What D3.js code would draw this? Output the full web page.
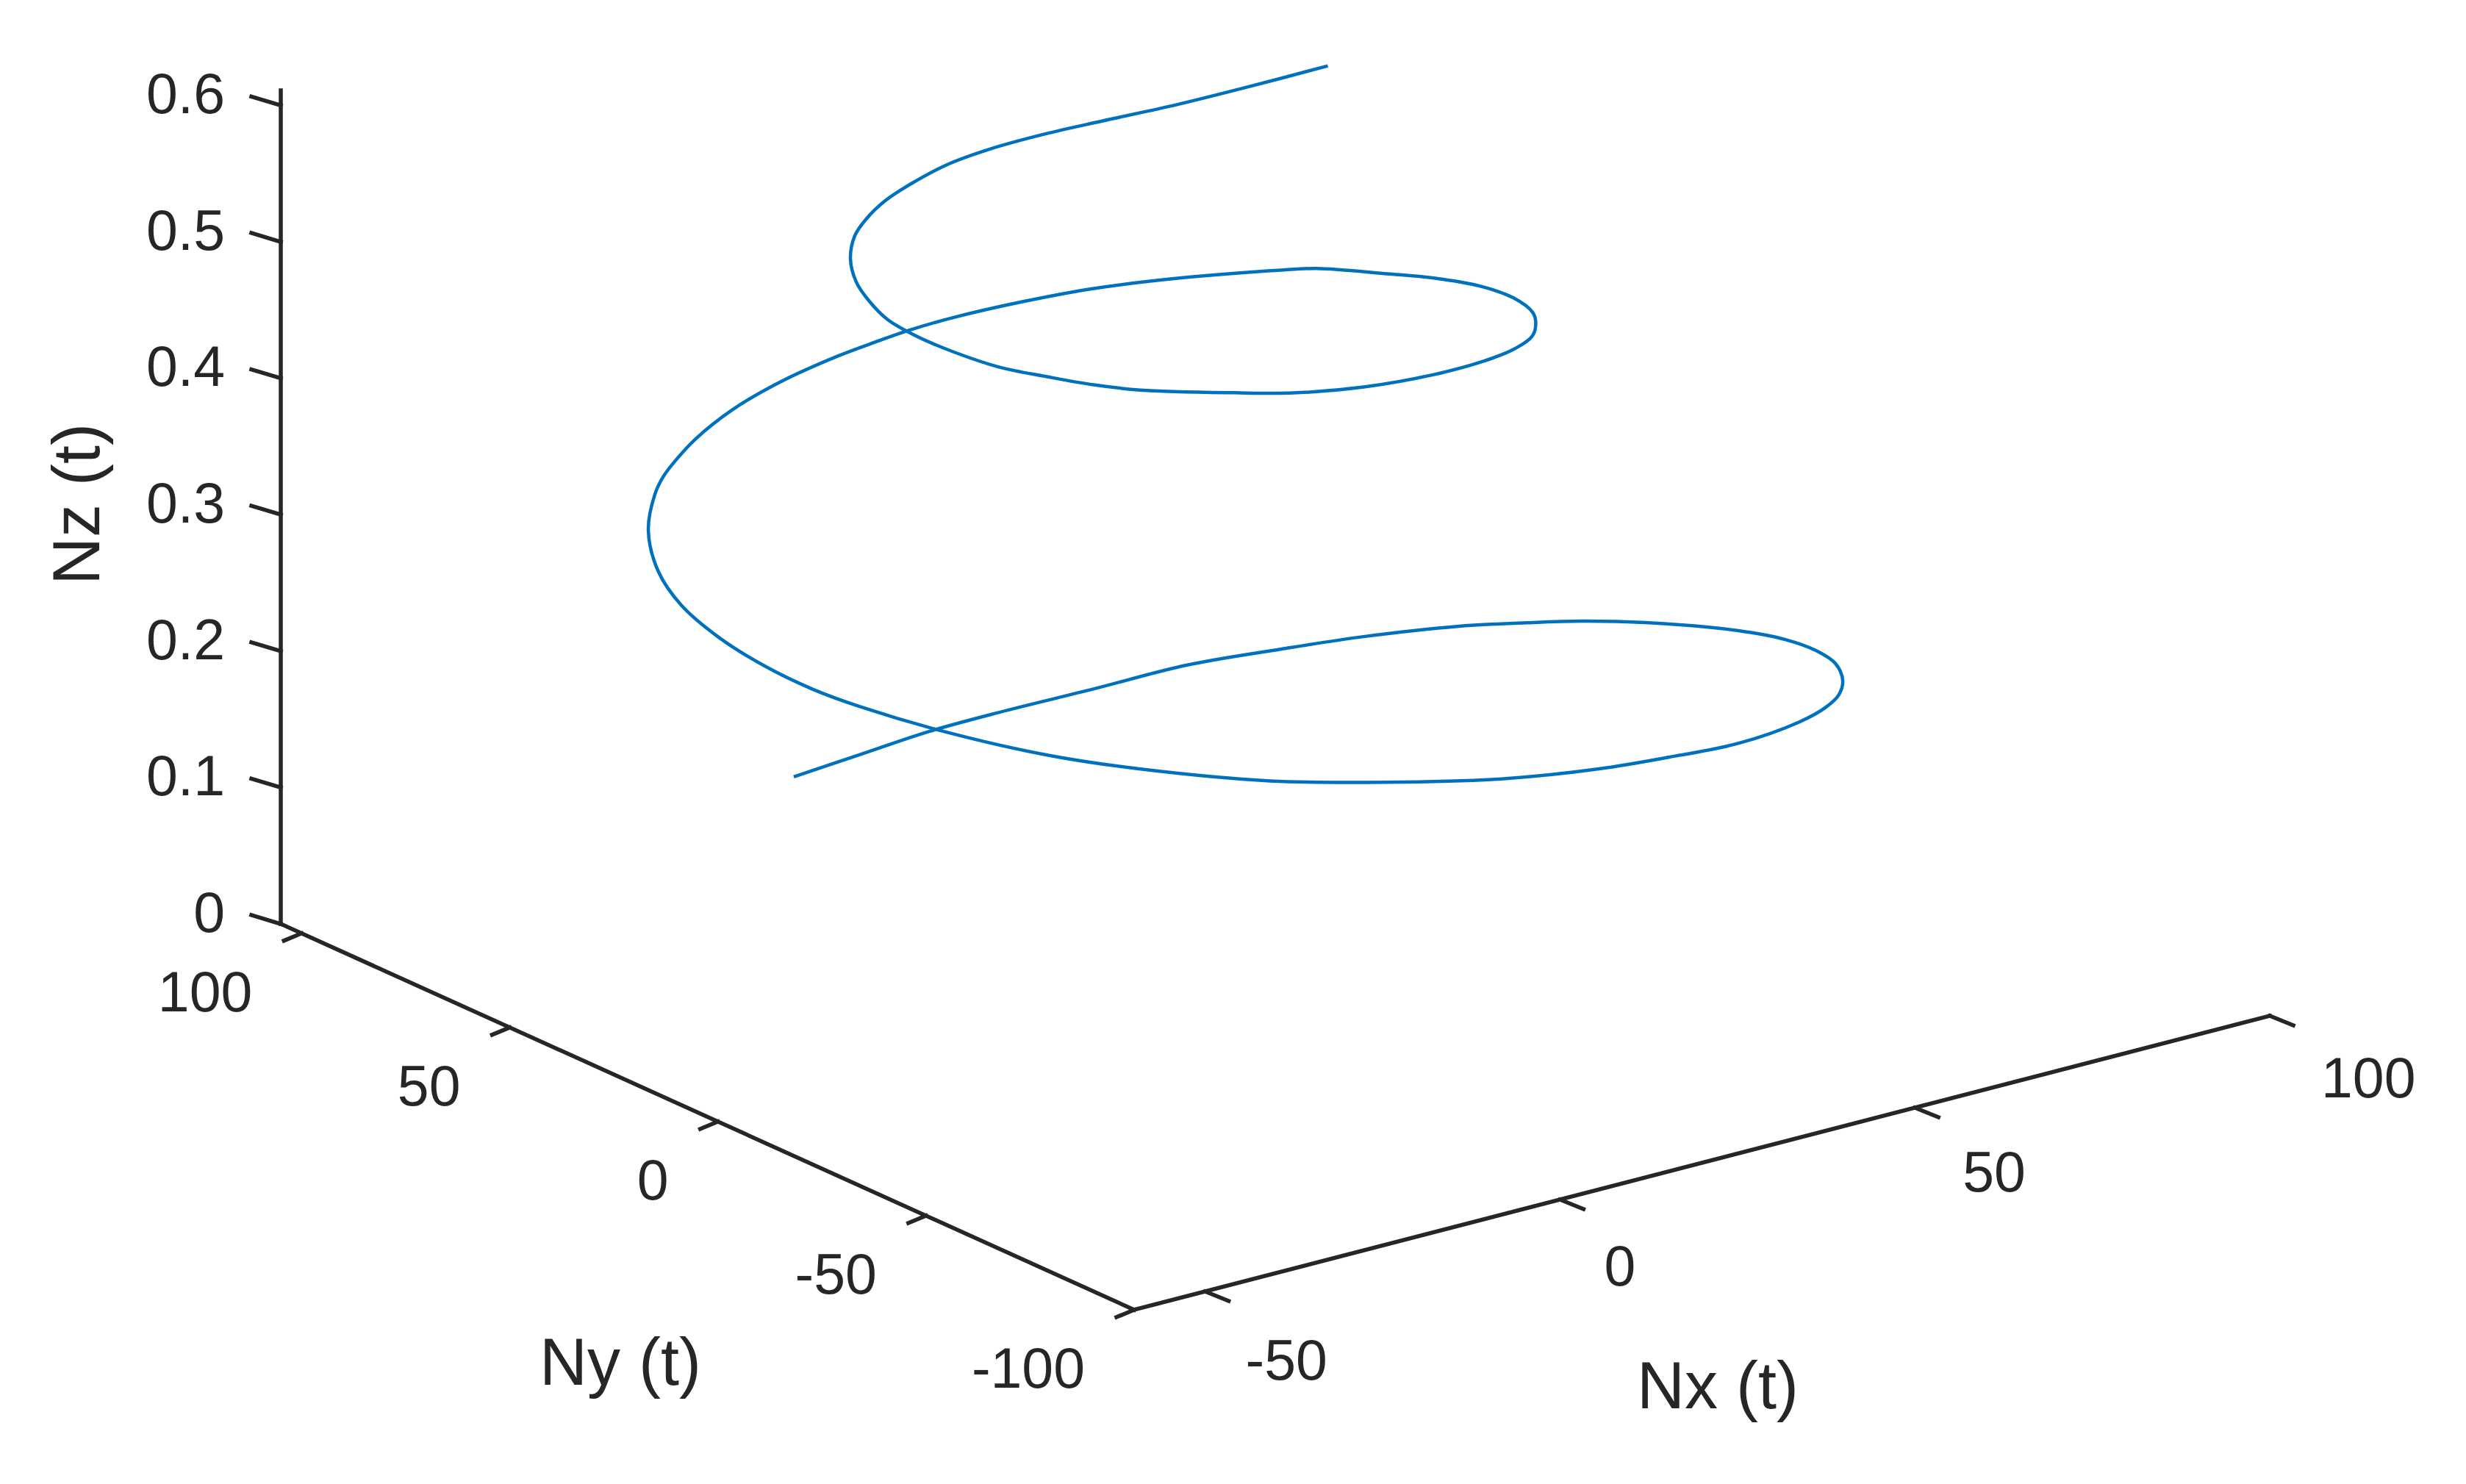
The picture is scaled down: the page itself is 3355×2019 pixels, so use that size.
<!DOCTYPE html>
<html>
<head>
<meta charset="utf-8">
<script src="https://cdn.jsdelivr.net/npm/d3@7"></script>
<style>
  body { margin: 0; background: #ffffff; }
  .tick-label { font-family: "Liberation Sans", Arial, sans-serif; font-size: 77px; fill: #262626; }
  .axis-title { font-family: "Liberation Sans", Arial, sans-serif; font-size: 90px; fill: #262626; }
</style>
</head>
<body>
<div id="chart"></div>
<script>
const SCREEN_WIDTH = 3355;
const SCREEN_HEIGHT = 2019;

// axis limits and ticks
const nxLimits = [-60, 100];
const nyLimits = [-100, 105];
const nzLimits = [0, 0.611];
const nxTicks = [-50, 0, 50, 100];
const nyTicks = [-100, -50, 0, 50, 100];
const nzTicks = [0, 0.1, 0.2, 0.3, 0.4, 0.5, 0.6];
const nzTickLabels = ["0", "0.1", "0.2", "0.3", "0.4", "0.5", "0.6"];

// trajectory N(t)
const nx = [7.0, 15.9, 24.7, 32.8, 43.5, 54.4, 63.6, 71.5, 79.5, 84.6, 88.2, 91.7, 94.9, 95.2, 93.6, 90.7, 85.7,
            80.7, 75.3, 67.8, 54.8, 43.0, 32.0, 18.9, 4.5, -8.7, -21.2, -29.4, -36.8, -42.1, -44.5, -46.1, -46.7, -46.1, -43.8, -39.3,
            -33.2, -29.8, -26.1, -21.1, -13.6, -5.4, 3.4, 9.2, 13.4, 18.9, 27.0, 34.5, 43.2, 51.1, 53.8, 57.3, 59.3, 60.2, 59.2, 56.3, 53.7,
            49.7, 43.6, 36.7, 28.4, 17.8, 8.7, 2.2, -7.6, -11.8, -15.4, -18.9, -21.3, -22.7, -23.1, -22.0, -20.5, -17.8,
            -14.0, -10.7, -6.5, -1.9, 3.8, 9.3, 15.9, 22.2, 30.6, 39.2, 48.4];
const ny = [96.0, 95.4, 93.5, 90.6, 86.1, 82.3, 75.3, 69.1, 60.2, 52.1, 45.1, 35.8, 19.0, 8.2, -1.9, -11.6, -21.8,
            -29.4, -35.5, -41.9, -49.5, -52.7, -54.5, -54.3, -50.8, -45.2, -35.4, -26.9, -14.7, -3.5, 3.8, 12.4, 22.4, 32.5, 42.0, 52.0,
            60.8, 64.6, 67.8, 71.7, 75.6, 78.4, 79.7, 79.6, 79.4, 78.2, 75.0, 70.8, 63.3, 54.1, 50.2, 39.2, 31.4, 21.6, 12.1, 2.6, -2.6,
            -8.7, -14.5, -18.5, -21.3, -22.5, -21.1, -18.0, -12.2, -8.1, -3.0, 2.4, 9.5, 16.2, 22.2, 28.6, 34.1, 40.1,
            45.6, 48.5, 50.9, 52.5, 53.5, 53.1, 51.1, 47.7, 44.4, 41.4, 38.3];
const nz = [0.030, 0.035, 0.043, 0.050, 0.059, 0.067, 0.076, 0.083, 0.092, 0.099, 0.105, 0.112, 0.125, 0.133, 0.141, 0.1485, 0.157,
            0.164, 0.1705, 0.1786, 0.191, 0.201, 0.2097, 0.220, 0.232, 0.243, 0.255, 0.2646, 0.275, 0.285, 0.291, 0.298, 0.306, 0.315, 0.324, 0.334,
            0.340, 0.343, 0.346, 0.349, 0.355, 0.360, 0.3653, 0.369, 0.3715, 0.375, 0.3804, 0.3857, 0.3925, 0.3999, 0.4028, 0.4094, 0.4143, 0.4205, 0.4265, 0.4331, 0.437,
            0.4405, 0.4465, 0.4521, 0.4579, 0.4647, 0.4707, 0.4753, 0.4825, 0.4863, 0.4901, 0.4943, 0.4991, 0.5036, 0.5077, 0.5114, 0.5152, 0.520,
            0.524, 0.528, 0.533, 0.537, 0.542, 0.546, 0.551, 0.557, 0.562, 0.568, 0.575];

// screen position of the back corner (Nx min, Ny max, Nz 0)
const ORIGIN = [382, 1257];

// each scale gives the screen offset along its own axis
const xScale = d3.scaleLinear().domain(nxLimits).range([[0, 0], [1545, -400]]);
const yScale = d3.scaleLinear().domain([nyLimits[1], nyLimits[0]]).range([[0, 0], [1161, 525]]);
const zScale = d3.scaleLinear().domain(nzLimits).range([[0, 0], [0, -1134]]);

function project(x, y, z) {
    var px = ORIGIN[0], py = ORIGIN[1];
    var a = xScale(x); px += a[0]; py += a[1];
    var b = yScale(y); px += b[0]; py += b[1];
    var c = zScale(z); px += c[0]; py += c[1];
    return [px, py];
}

var svg = d3.select("#chart").append("svg")
    .attr("width", SCREEN_WIDTH)
    .attr("height", SCREEN_HEIGHT);

svg.append("rect")
    .attr("width", SCREEN_WIDTH)
    .attr("height", SCREEN_HEIGHT)
    .attr("fill", "white");

var axisGroup = svg.append("g").attr("id", "axes");

function axisLine(p0, p1) {
    axisGroup.append("line")
        .attr("x1", p0[0]).attr("y1", p0[1])
        .attr("x2", p1[0]).attr("y2", p1[1])
        .attr("stroke", "#262626")
        .attr("stroke-width", 5.5)
        .attr("stroke-linecap", "square");
}

//axis lines
axisLine(project(nxLimits[0], nyLimits[1], nzLimits[0]), project(nxLimits[0], nyLimits[1], nzLimits[1]));
axisLine(project(nxLimits[0], nyLimits[1], nzLimits[0]), project(nxLimits[0], nyLimits[0], nzLimits[0]));
axisLine(project(nxLimits[0], nyLimits[0], nzLimits[0]), project(nxLimits[1], nyLimits[0], nzLimits[0]));

//Nz ticks
nzTicks.forEach(function(t, i) {
    var p = project(nxLimits[0], nyLimits[1], t);
    axisLine(p, [p[0] - 40, p[1] - 12]);
    axisGroup.append("text")
        .attr("class", "tick-label")
        .attr("x", p[0] - 76)
        .attr("y", p[1] - 17)
        .attr("dy", "0.36em")
        .style("text-anchor", "end")
        .text(nzTickLabels[i]);
});

//Ny ticks
nyTicks.forEach(function(t) {
    var p = project(nxLimits[0], t, 0);
    axisLine(p, [p[0] - 24, p[1] + 10]);
    axisGroup.append("text")
        .attr("class", "tick-label")
        .attr("x", p[0] - 67)
        .attr("y", p[1] + 78)
        .attr("dy", "0.36em")
        .style("text-anchor", "end")
        .text(t);
});

//Nx ticks
nxTicks.forEach(function(t) {
    var p = project(t, nyLimits[0], 0);
    axisLine(p, [p[0] + 32, p[1] + 13]);
    axisGroup.append("text")
        .attr("class", "tick-label")
        .attr("x", p[0] + 55 + 0.1 * (t + 50))
        .attr("y", p[1] + 92 - 0.06 * (t + 50))
        .attr("dy", "0.36em")
        .style("text-anchor", "start")
        .text(t);
});

//axis titles
svg.append("text")
    .attr("class", "axis-title")
    .attr("transform", "translate(2337,1916)")
    .style("text-anchor", "middle")
    .text("Nx (t)");

svg.append("text")
    .attr("class", "axis-title")
    .attr("transform", "translate(844,1884)")
    .style("text-anchor", "middle")
    .text("Ny (t)");

svg.append("text")
    .attr("class", "axis-title")
    .attr("transform", "translate(135,686) rotate(-90)")
    .style("text-anchor", "middle")
    .text("Nz (t)");

//trajectory
var points = nx.map(function(d, i) { return project(d, ny[i], nz[i]); });

svg.append("path")
    .attr("d", d3.line().curve(d3.curveCatmullRom.alpha(0.5))(points))
    .attr("fill", "none")
    .attr("stroke", "#0072BD")
    .attr("stroke-width", 4.5)
    .attr("stroke-linejoin", "round");
</script>
</body>
</html>
